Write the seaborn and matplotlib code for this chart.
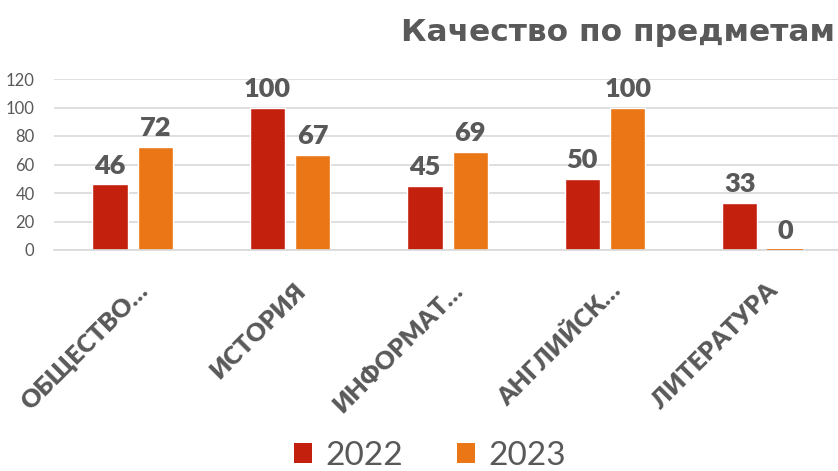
import numpy as np
import pandas as pd
import matplotlib
matplotlib.use("Agg")
import matplotlib.pyplot as plt
import matplotlib.transforms as mtransforms
from matplotlib.patches import Patch
import seaborn as sns

# chart data
subjects = ["ОБЩЕСТВО…", "ИСТОРИЯ", "ИНФОРМАТ…", "АНГЛИЙСК…", "ЛИТЕРАТУРА"]
years = ["2022", "2023"]
values_2022 = [46, 100, 45, 50, 33]
values_2023 = [72, 67, 69, 100, 0]
y_ticks = [0, 20, 40, 60, 80, 100, 120]

title_text = "Качество по предметам"
colors = ["#C3200E", "#EA7615"]
text_gray = "#595959"
grid_gray = "#D9D9D9"

sns.set_theme(style="white")
plt.rcParams["font.family"] = ["Lato", "DejaVu Sans"]

df = pd.DataFrame({
    "subject": subjects * 2,
    "year": [years[0]] * len(subjects) + [years[1]] * len(subjects),
    "value": values_2022 + values_2023,
})

fig = plt.figure(figsize=(8.38, 4.71), dpi=100)
ax = fig.add_axes([54 / 838, 221 / 471, (838 - 54) / 838, 171 / 471])

sns.barplot(
    data=df, x="subject", y="value", hue="year",
    palette=colors, width=0.576, gap=0.22,
    saturation=1, ax=ax, legend=False,
)

# grid and spines
ax.set_ylim(0, 120)
ax.set_xlim(-0.5, 4.48)
ax.set_yticks(y_ticks)
ax.yaxis.grid(True, color=grid_gray, linewidth=1.2)
ax.set_axisbelow(True)
for side in ["top", "right", "left"]:
    ax.spines[side].set_visible(False)
ax.spines["bottom"].set_color(grid_gray)
ax.spines["bottom"].set_linewidth(1.2)
ax.tick_params(axis="both", length=0)
ax.tick_params(axis="y", labelsize=12, labelcolor=text_gray, pad=14)
ax.set_xlabel("")
ax.set_ylabel("")

# zero-height bars still show a thin line, as in the original
for cont in ax.containers:
    for patch in cont:
        if patch.get_height() == 0:
            patch.set_edgecolor(patch.get_facecolor())
            patch.set_linewidth(1.2)
            patch.set_zorder(3)

# value labels above bars
for cont in ax.containers:
    ax.bar_label(cont, fmt="%d", padding=5, fontsize=19.5, fontweight="heavy",
                 color=text_gray)

# rotated category labels
ax.set_xticks(range(len(subjects)))
ax.set_xticklabels(subjects, rotation=45, ha="right", va="center",
                   rotation_mode="anchor", fontsize=18, fontweight="heavy",
                   color=text_gray)
offset = mtransforms.ScaledTranslation(12 / 100, -32 / 100, fig.dpi_scale_trans)
for lbl in ax.get_xticklabels():
    lbl.set_transform(lbl.get_transform() + offset)

# title at the top right
fig.text(0.997, 0.93, title_text, ha="right", va="center", fontsize=22.5,
         fontweight="bold", color=text_gray, family=["DejaVu Sans"])

# legend at the bottom
handles = [Patch(facecolor=c, edgecolor="none") for c in colors]
fig.legend(handles, years, loc="center", bbox_to_anchor=(0.513, 0.032),
           ncol=2, frameon=False, handlelength=0.55,
           handleheight=0.55, handletextpad=0.4, columnspacing=1.6,
           labelcolor=text_gray, prop={"size": 24, "weight": "normal"})

fig.savefig("out.png", dpi=100)
